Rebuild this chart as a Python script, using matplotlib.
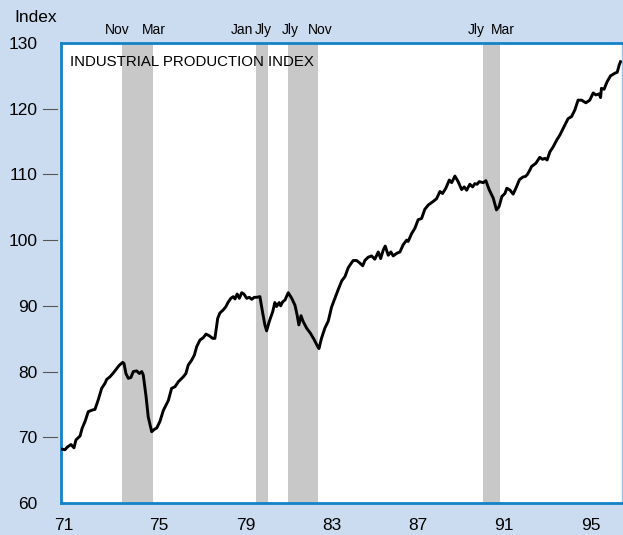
import matplotlib
matplotlib.use("Agg")
import matplotlib.pyplot as plt
import matplotlib.transforms as mtransforms

# datos (año decimal, índice)
anos = [71.03, 71.18, 71.29, 71.46, 71.60, 71.69, 71.88, 71.98, 72.11, 72.26,
        72.45, 72.57, 72.72, 72.88, 73.03, 73.11, 73.26, 73.42, 73.57, 73.69,
        73.85, 73.91, 74.00, 74.11, 74.23, 74.34, 74.50, 74.62, 74.73, 74.80,
        74.93, 75.03, 75.19, 75.31, 75.42, 75.57, 75.73, 75.96, 76.11, 76.27,
        76.42, 76.65, 76.77, 76.88, 77.04, 77.16, 77.27, 77.42, 77.57, 77.70,
        77.85, 78.01, 78.11, 78.24, 78.34, 78.50, 78.62, 78.73, 78.85, 78.96,
        79.04, 79.14, 79.24, 79.35, 79.45, 79.58, 79.70, 79.81, 79.93, 80.04,
        80.19, 80.32, 80.42, 80.50, 80.62, 80.78, 80.88, 80.96, 81.08, 81.15,
        81.24, 81.35, 81.50, 81.66, 81.81, 81.91, 81.99, 82.09, 82.19, 82.35,
        82.53, 82.69, 82.86, 82.92, 83.03, 83.19, 83.35, 83.50, 83.66, 83.81,
        83.97, 84.12, 84.27, 84.35, 84.50, 84.66, 84.81, 84.94, 85.04, 85.19,
        85.35, 85.50, 85.66, 85.77, 85.89, 85.98, 86.12, 86.24, 86.35, 86.51,
        86.66, 86.81, 86.97, 87.04, 87.20, 87.35, 87.50, 87.66, 87.81, 87.97,
        88.20, 88.35, 88.51, 88.63, 88.78, 88.94, 89.05, 89.20, 89.35, 89.51,
        89.63, 89.74, 89.89, 90.02, 90.12, 90.23, 90.32, 90.51, 90.63, 90.78,
        90.97, 91.12, 91.24, 91.37, 91.51, 91.60, 91.75, 91.89, 92.03, 92.18,
        92.34, 92.46, 92.55, 92.66, 92.74, 92.94, 93.12, 93.25, 93.36, 93.46,
        93.59, 93.74, 93.90, 94.05, 94.28, 94.43, 94.59, 94.74, 94.89, 95.05,
        95.25, 95.43, 95.59, 95.71, 95.86, 95.93, 95.97, 96.09, 96.23, 96.39,
        96.59, 96.70, 96.79, 96.85]
indice = [68.2, 68.1, 68.5, 68.9, 68.4, 69.6, 70.2, 71.4, 72.4, 73.9,
          74.15, 74.25, 75.7, 77.45, 78.2, 78.8, 79.2, 79.8, 80.45, 80.95,
          81.4, 81.25, 79.7, 78.97, 79.1, 80.0, 80.1, 79.7, 80.0, 79.5,
          76.2, 73.1, 70.85, 71.2, 71.4, 72.4, 74.1, 75.6, 77.45, 77.7,
          78.45, 79.2, 79.7, 81.0, 81.75, 82.5, 83.8, 84.8, 85.15, 85.7,
          85.45, 85.05, 85.05, 88.1, 88.9, 89.4, 89.9, 90.6, 91.15, 91.4,
          91.05, 91.8, 91.15, 92.0, 91.8, 91.15, 91.3, 91.0, 91.3, 91.3,
          91.4, 88.9, 87.1, 86.2, 87.6, 89.1, 90.5, 89.9, 90.5, 90.0,
          90.6, 90.9, 92.0, 91.15, 90.1, 88.6, 87.1, 88.5, 87.6, 86.6,
          85.8, 84.9, 83.8, 83.5, 85.0, 86.6, 87.7, 89.8, 91.2, 92.5,
          93.8, 94.45, 95.8, 96.2, 96.9, 96.9, 96.5, 96.1, 96.9, 97.4,
          97.6, 97.1, 98.2, 97.2, 98.5, 99.1, 97.7, 98.2, 97.6, 98.0,
          98.2, 99.3, 100.0, 99.8, 101.0, 101.8, 103.1, 103.3, 104.7, 105.35,
          105.9, 106.3, 107.4, 107.1, 107.9, 109.15, 108.75, 109.75, 108.9, 107.7,
          108.1, 107.6, 108.5, 108.1, 108.6, 108.5, 108.9, 108.75, 109.05, 107.7,
          106.4, 104.6, 105.1, 106.65, 107.1, 107.9, 107.6, 107.0, 108.0, 109.2,
          109.6, 109.7, 110.0, 110.65, 111.2, 111.7, 112.6, 112.3, 112.45, 112.2,
          113.45, 114.2, 115.2, 116.0, 117.5, 118.5, 118.8, 119.8, 121.3, 121.3,
          120.9, 121.3, 122.4, 122.1, 122.25, 121.7, 123.1, 122.95, 124.1, 125.0,
          125.4, 125.55, 126.65, 127.15]

# recesiones (inicio, fin)
recesiones = [(73.83, 75.25), (80.0, 80.55), (81.5, 82.88), (90.5, 91.3)]
meses = ['Nov', 'Mar', 'Jan', 'Jly', 'Jly', 'Nov', 'Jly', 'Mar']
meses_x = [73.59, 75.30, 79.36, 80.33, 81.58, 82.96, 90.20, 91.40]

yticks = [60, 70, 80, 90, 100, 110, 120, 130]
xtick_labels = ['71', '75', '79', '83', '87', '91', '95']
xtick_pos = [71.12, 75.5, 79.55, 83.5, 87.5, 91.45, 95.5]

fondo = '#ccdcf0'
azul = '#1582c8'
fuente = ['Liberation Sans', 'DejaVu Sans']

fig = plt.figure(figsize=(6.23, 5.35), dpi=100, facecolor=fondo)
ax = fig.add_axes([61 / 623, 32 / 535, 561 / 623, 460 / 535])
ax.set_facecolor('white')

for ini, fin in recesiones:
    ax.axvspan(ini, fin, color='#c8c8c8', lw=0, zorder=1)

ax.plot(anos, indice, color='black', lw=2.1, zorder=3, solid_joinstyle='round')

ax.set_xlim(71, 96.92)
ax.set_ylim(60, 130)

ax.set_yticks(yticks)
ax.set_yticklabels([str(v) for v in yticks], family=fuente, fontsize=12.5)
ax.set_xticks(xtick_pos)
ax.set_xticklabels(xtick_labels, family=fuente, fontsize=12.5)
ax.tick_params(axis='y', length=0, pad=17)
ax.tick_params(axis='x', length=0, pad=11)

# rayitas de las marcas del eje y
trans = mtransforms.blended_transform_factory(ax.transAxes, ax.transData)
for v in yticks[1:-1]:
    ax.plot([-0.032, -0.007], [v, v], transform=trans, color='#555555',
            lw=0.8, clip_on=False)

for lado in ['left', 'top', 'bottom']:
    ax.spines[lado].set_color(azul)
    ax.spines[lado].set_linewidth(2.0)
ax.spines['right'].set_color('#8cc4ec')
ax.spines['right'].set_linewidth(1.0)

ax.text(0.016, 0.959, 'INDUSTRIAL PRODUCTION INDEX', transform=ax.transAxes,
        ha='left', va='center', family=fuente, fontsize=10.8)

trans_m = mtransforms.blended_transform_factory(ax.transData, ax.transAxes)
for m, x in zip(meses, meses_x):
    ax.text(x, 1.028, m, transform=trans_m, ha='center', va='center',
            family=fuente, fontsize=10)

fig.text(14 / 623, 1 - 17 / 535, 'Index', ha='left', va='center',
         family=fuente, fontsize=12.5)

fig.savefig('out.png', dpi=100, facecolor=fondo)
